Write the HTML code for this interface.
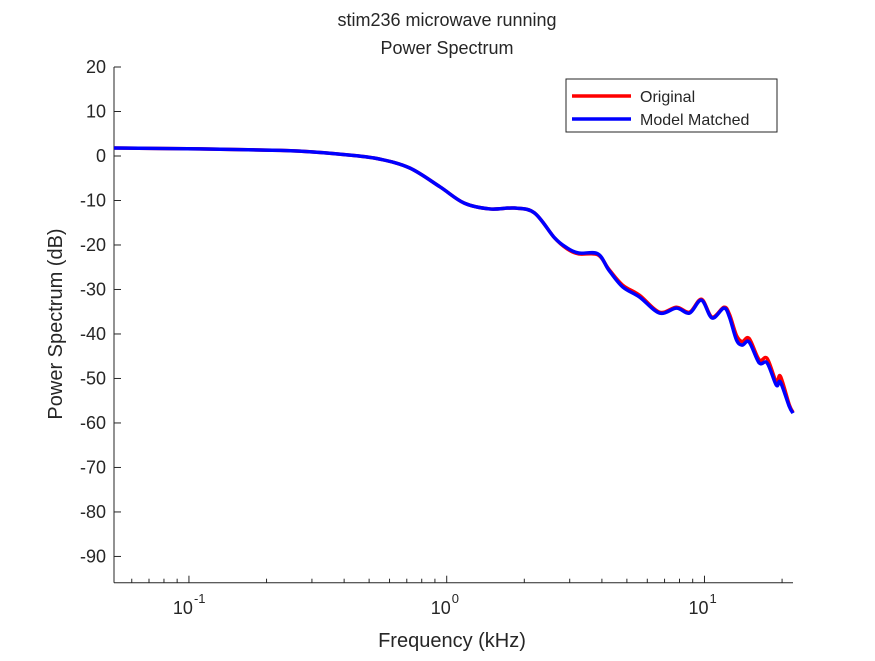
<!DOCTYPE html>
<html><head><meta charset="utf-8"><style>
body{margin:0;background:#fff;font-family:"Liberation Sans",Arial,sans-serif}
svg text{font-family:"Liberation Sans",Arial,sans-serif;fill:#262626}
</style></head><body>
<svg id="c" width="875" height="656">
<rect width="875" height="656" fill="#fff"/>
<text x="447" y="26" font-size="18" text-anchor="middle">stim236 microwave running</text>
<text x="447" y="54" font-size="18" text-anchor="middle">Power Spectrum</text>
<g id="axes"></g>
<g id="series"></g>
<g>
<rect x="566" y="79" width="211" height="53" fill="#fff" stroke="#262626" stroke-width="1"/>
<line x1="572" y1="96" x2="631" y2="96" stroke="#f00" stroke-width="3.5"/>
<text x="640" y="102" font-size="16">Original</text>
<line x1="572" y1="119" x2="631" y2="119" stroke="#00f" stroke-width="3.5"/>
<text x="640" y="125" font-size="16">Model Matched</text>
</g>
<text x="452" y="647" font-size="20" text-anchor="middle">Frequency (kHz)</text>
<text transform="translate(62,324) rotate(-90)" font-size="20" text-anchor="middle">Power Spectrum (dB)</text>
</svg>
<script>
const freqs=[0.0512,0.110,0.188,0.269,0.421,0.550,0.719,0.94,1.17,1.47,1.83,2.19,2.62,2.92,3.25,3.86,4.25,4.81,5.60,6.69,7.79,8.75,9.73,10.7,11.9,12.5,13.3,14.0,14.9,16.3,17.5,19.0,19.7,21.3,22.05];
const modelDb=[1.8,1.6,1.35,1.1,0.2,-0.7,-2.7,-6.9,-10.6,-11.9,-11.7,-12.8,-18.4,-20.6,-21.8,-22.0,-25.6,-29.4,-31.7,-35.3,-34.2,-35.3,-32.4,-36.4,-34.2,-36.2,-41.3,-42.5,-41.8,-46.5,-46.5,-51.5,-50.8,-56.2,-57.8];
const origDb=[1.8,1.6,1.35,1.1,0.2,-0.7,-2.7,-6.9,-10.6,-11.9,-11.7,-12.8,-18.4,-20.8,-22.0,-22.2,-25.4,-29.0,-31.3,-35.1,-34.0,-35.1,-32.2,-36.2,-34.0,-35.6,-40.3,-41.7,-41.0,-45.8,-45.5,-50.8,-49.5,-55.8,-57.6];
const yTicks=[20,10,0,-10,-20,-30,-40,-50,-60,-70,-80,-90];
const xMajor=[-1,0,1];
const L=114,R=793,T=67,B=582.7,xmin=0.0512,xmax=22.05,ymin=-95.9,ymax=20;
const sx=f=>L+(Math.log10(f)-Math.log10(xmin))/(Math.log10(xmax)-Math.log10(xmin))*(R-L);
const sy=v=>B-(v-ymin)/(ymax-ymin)*(B-T);
const NS='http://www.w3.org/2000/svg';
function mk(t,a,p){const e=document.createElementNS(NS,t);for(const k in a)e.setAttribute(k,a[k]);p.appendChild(e);return e;}
const ax=document.getElementById('axes');
const yl=mk('line',{x1:L,y1:T,x2:L,y2:B,stroke:'#262626'},ax);


const xl=mk('line',{x1:L,y1:B,x2:R,y2:B,stroke:'#262626'},ax);


yTicks.forEach(v=>{const y=sy(v);
mk('line',{x1:L,y1:y,x2:L+7,y2:y,stroke:'#262626'},ax);
const t=mk('text',{x:L-8,y:y+6,'font-size':18,'text-anchor':'end'},ax);t.textContent=v;

});
for(let d=-2;d<=1;d++)for(let m=1;m<10;m++){const f=m*Math.pow(10,d);if(f<xmin||f>xmax)continue;const x=sx(f);
mk('line',{x1:x,y1:B,x2:x,y2:B-(m==1?7:4),stroke:'#262626'},ax);}
xMajor.forEach(e=>{const x=sx(Math.pow(10,e));
const t=mk('text',{x:x-6,y:614,'font-size':18,'text-anchor':'middle'},ax);t.textContent='10';


const s=mk('text',{x:x+5,y:603,'font-size':13,'text-anchor':'start'},ax);s.textContent=e;});
function path(fs,vs){const p=fs.map((f,i)=>[sx(f),sy(vs[i])]);let d='M'+p[0][0]+','+p[0][1];
for(let i=0;i<p.length-1;i++){const p0=p[i-1]||p[i],p1=p[i],p2=p[i+1],p3=p[i+2]||p2;
d+=' C'+(p1[0]+(p2[0]-p0[0])/6)+','+(p1[1]+(p2[1]-p0[1])/6)+' '+(p2[0]-(p3[0]-p1[0])/6)+','+(p2[1]-(p3[1]-p1[1])/6)+' '+p2[0]+','+p2[1];}return d;}
const sg=document.getElementById('series');
const r=mk('path',{d:path(freqs,origDb),fill:'none',stroke:'#f00','stroke-width':3.5},sg);


const b=mk('path',{d:path(freqs,modelDb),fill:'none',stroke:'#00f','stroke-width':3.5},sg);


</script>
</body></html>
